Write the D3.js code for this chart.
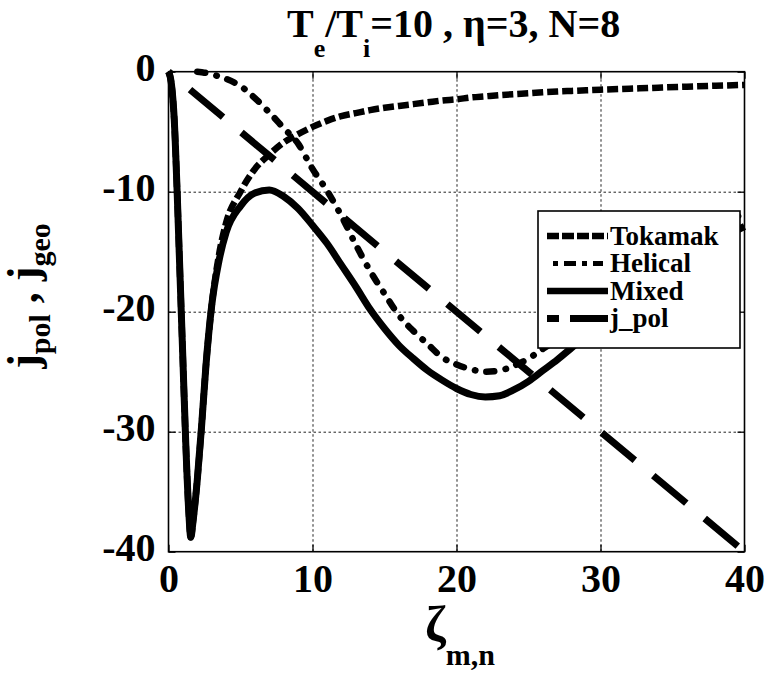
<!DOCTYPE html>
<html>
<head>
<meta charset="utf-8">
<script src="https://cdn.jsdelivr.net/npm/d3@7"></script>
<style>
  html, body { margin: 0; padding: 0; background: #fff; }
  svg { display: block; }
  text { font-family: "Liberation Serif", "Times New Roman", serif; font-weight: bold; fill: #000; }
</style>
</head>
<body>
<svg id="chart" width="768" height="674"></svg>
<script>
// ---------------- data ----------------
const zeta = [0, 0.2, 0.4, 0.6, 0.8, 1.0, 1.2, 1.4, 1.55, 1.7, 2.0, 2.3, 2.6, 3.0, 3.5, 4, 5, 6, 7, 8, 9, 10,
              11, 12, 13, 14, 15, 16, 17, 18, 19, 20, 21, 22, 23, 24, 25, 26, 27, 28, 29, 30, 32, 34, 36, 38, 40];

const tokamak = [0, -1, -4, -10, -17, -24, -31, -36.5, -38.8, -37.5, -34, -29.5, -24.5, -19.5, -15.3, -12.6, -10.0, -8.1, -6.9, -5.9, -5.2, -4.6,
                 -4.1, -3.7, -3.45, -3.2, -3.0, -2.85, -2.7, -2.55, -2.4, -2.3, -2.15, -2.05, -1.95, -1.87, -1.8, -1.72, -1.65, -1.6, -1.55, -1.5, -1.42, -1.33, -1.25, -1.17, -1.1];

const helical = [null, null, null, null, null, null, null, null, null, null, 0, -0.05, -0.1, -0.2, -0.4, -0.6, -1.2, -2.2, -3.4, -4.7, -6.0, -8.1,
                 -9.9, -12.0, -14.4, -16.6, -18.5, -20.3, -21.6, -22.7, -23.8, -24.4, -24.8, -25.0, -24.9, -24.5, -23.9, -23.1, -22.3, -21.3, -20.3, -19.3, -17.4, -15.7, -14.2, -12.9, -11.8];

const mixed = [0, -1, -4, -10, -17, -24, -31, -36.5, -38.8, -37.5, -34, -29.5, -24.5, -19.5, -15.8, -13.4, -11.2, -10.1, -9.85, -10.4, -11.4, -12.8,
               -14.3, -16.1, -17.9, -19.8, -21.4, -22.8, -23.9, -24.9, -25.7, -26.4, -26.9, -27.1, -27.0, -26.5, -25.8, -24.9, -24.0, -23.0, -22.0, -20.9, -18.9, -17.1, -15.5, -14.1, -12.9];

const jpolZeta = [0, 40];
const jpolValues = [0, -40];

const xTicks = [0, 10, 20, 30, 40];
const yTicks = [0, -10, -20, -30, -40];

const legendLabels = ["Tokamak", "Helical", "Mixed", "j_pol"];

// ---------------- layout ----------------
const svg = d3.select("#chart");
const pL = 168.5, pR = 744.5, pT = 71.7, pB = 551.7;
const x = d3.scaleLinear().domain([0, 40]).range([pL, pR]);
const y = d3.scaleLinear().domain([-40, 0]).range([pB, pT]);
const fmt = d => String(d);

// grid
const gridX = svg.append("g").attr("transform", `translate(0,${pB})`)
  .call(d3.axisBottom(x).tickValues(xTicks.slice(1, -1)).tickSize(-(pB - pT)).tickFormat(""));
const gridY = svg.append("g").attr("transform", `translate(${pL},0)`)
  .call(d3.axisLeft(y).tickValues(yTicks.slice(1, -1)).tickSize(-(pR - pL)).tickFormat(""));
[gridX, gridY].forEach(g => {
  g.select(".domain").remove();
  g.selectAll("line").attr("stroke", "#222").attr("stroke-width", 1).attr("stroke-dasharray", "2.5,2.5");
});

// ticks (inside) + labels
const axB = svg.append("g").attr("transform", `translate(0,${pB})`)
  .call(d3.axisBottom(x).tickValues(xTicks).tickSizeInner(-7).tickSizeOuter(0).tickPadding(12).tickFormat(fmt));
const axL = svg.append("g").attr("transform", `translate(${pL},0)`)
  .call(d3.axisLeft(y).tickValues(yTicks).tickSizeInner(-7).tickSizeOuter(0).tickPadding(13).tickFormat(fmt));
const axT = svg.append("g").attr("transform", `translate(0,${pT})`)
  .call(d3.axisTop(x).tickValues(xTicks).tickSizeInner(-7).tickSizeOuter(0).tickFormat(""));
const axR = svg.append("g").attr("transform", `translate(${pR},0)`)
  .call(d3.axisRight(y).tickValues(yTicks).tickSizeInner(-7).tickSizeOuter(0).tickFormat(""));
[axB, axL, axT, axR].forEach(g => {
  g.select(".domain").remove();
  g.selectAll("line").attr("stroke", "#000").attr("stroke-width", 1.3);
  g.selectAll("text").attr("font-size", 40).attr("font-family", "Liberation Serif, Times New Roman, serif")
    .attr("font-weight", "bold").attr("fill", "#000");
});
axL.selectAll("text").attr("dy", "0.22em");

// box
svg.append("rect").attr("x", pL).attr("y", pT).attr("width", pR - pL).attr("height", pB - pT)
  .attr("fill", "none").attr("stroke", "#000").attr("stroke-width", 1.6);

// ---------------- lines ----------------
const styles = {
  Tokamak: { dash: "11,4", cap: "butt", w: 6.5 },
  Helical: { dash: "8,11.5,0.5,11", cap: "round", w: 6.5 },
  Mixed:   { dash: null, cap: "butt", w: 7 },
  j_pol:   { dash: "43,24", cap: "butt", w: 7, offset: -28 }
};

const curveLine = d3.line().defined(d => d[1] !== null).x(d => x(d[0])).y(d => y(d[1])).curve(d3.curveMonotoneX);
const straightLine = d3.line().x(d => x(d[0])).y(d => y(d[1]));
const seriesData = [
  ["Tokamak", zeta.map((z, i) => [z, tokamak[i]])],
  ["Helical", zeta.map((z, i) => [z, helical[i]])],
  ["Mixed", zeta.map((z, i) => [z, mixed[i]])],
  ["j_pol", jpolZeta.map((z, i) => [z, jpolValues[i]])]
];
seriesData.forEach(([name, data]) => {
  const s = styles[name];
  const p = svg.append("path").datum(data)
    .attr("d", name === "j_pol" ? straightLine : curveLine)
    .attr("fill", "none").attr("stroke", "#000").attr("stroke-width", s.w)
    .attr("stroke-linecap", s.cap).attr("stroke-linejoin", "round");
  if (s.dash) p.attr("stroke-dasharray", s.dash);
  if (s.offset) p.attr("stroke-dashoffset", s.offset);
});

// ---------------- legend ----------------
const lg = svg.append("g");
lg.append("rect").attr("x", 538).attr("y", 211).attr("width", 202).attr("height", 137)
  .attr("fill", "#fff").attr("stroke", "#000").attr("stroke-width", 1.6);
const legendSamples = {
  Tokamak: { dash: "12,3", cap: "butt", w: 6.5, x0: 547, x1: 608 },
  Helical: { dash: "5,6,12,6", cap: "butt", w: 5, x0: 553, x1: 603 },
  Mixed:   { dash: null, cap: "butt", w: 6.5, x0: 547, x1: 608 },
  j_pol:   { dash: "12,11,40", cap: "butt", w: 7, x0: 547, x1: 608 }
};
legendLabels.forEach((name, i) => {
  const cy = 236 + i * 27.5;
  const s = legendSamples[name];
  const l = lg.append("line").attr("x1", s.x0).attr("x2", s.x1).attr("y1", cy).attr("y2", cy)
    .attr("stroke", "#000").attr("stroke-width", s.w).attr("stroke-linecap", s.cap);
  if (s.dash) l.attr("stroke-dasharray", s.dash);
  lg.append("text").attr("x", 610).attr("y", cy + 8.5).attr("font-size", 27).text(name);
});

// ---------------- titles ----------------
const title = svg.append("text").attr("x", 287).attr("y", 37).attr("font-size", 40);
title.append("tspan").text("T");
title.append("tspan").attr("font-size", 26).attr("dy", 20).text("e");
title.append("tspan").attr("dy", -20).text("/T");
title.append("tspan").attr("font-size", 26).attr("dy", 20).text("i");
title.append("tspan").attr("dy", -20).text("=10 , η=3, N=8");

const yl = svg.append("text").attr("transform", "translate(38,296) rotate(-90)")
  .attr("text-anchor", "middle").attr("font-size", 44);
yl.append("tspan").text("j");
yl.append("tspan").attr("font-size", 30).attr("dy", 12).text("pol");
yl.append("tspan").attr("dy", -12).text(" , j");
yl.append("tspan").attr("font-size", 30).attr("dy", 12).text("geo");

const xl = svg.append("text").attr("x", 425).attr("y", 641).attr("font-size", 50);
xl.append("tspan").text("ζ");
xl.append("tspan").attr("font-size", 30).attr("dy", 24).text("m,n");
</script>
</body>
</html>
